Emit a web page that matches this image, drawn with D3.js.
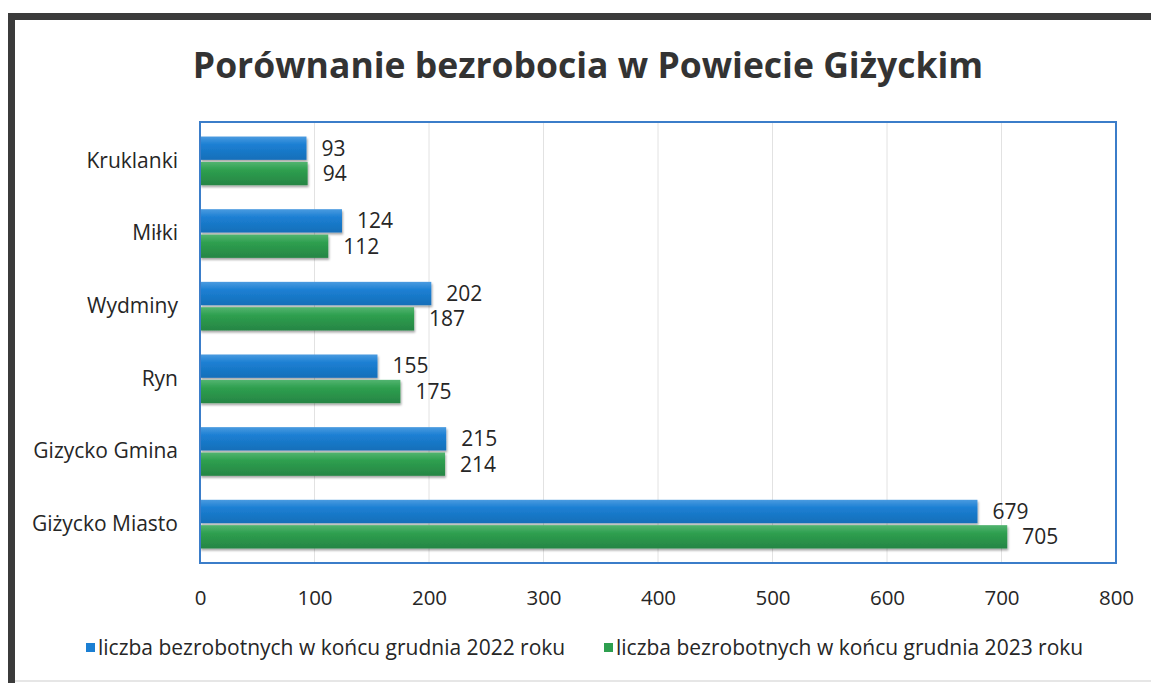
<!DOCTYPE html>
<html>
<head>
<meta charset="utf-8">
<script src="https://cdn.jsdelivr.net/npm/d3@7"></script>
<style>
  body { margin: 0; background: #fff; }
  text { font-family: "Open Sans", sans-serif; fill: #262626; }
</style>
</head>
<body>
<script>
const categories = ['Kruklanki', 'Miłki', 'Wydminy', 'Ryn', 'Gizycko Gmina', 'Giżycko Miasto'];
const values2022 = [93, 124, 202, 155, 215, 679];
const values2023 = [94, 112, 187, 175, 214, 705];
const seriesNames = [
    'liczba bezrobotnych w końcu grudnia 2022 roku',
    'liczba bezrobotnych w końcu grudnia 2023 roku'
];
const xTicks = [0, 100, 200, 300, 400, 500, 600, 700, 800];
const colors = ['#1b7fd3', '#2e9f4f'];

const width = 1151, height = 683;
const plot = {left: 200, right: 1116, top: 122, bottom: 563};

const svg = d3.select("body").append("svg")
    .attr("width", width)
    .attr("height", height);

// gradients for the bars and a small shadow
const defs = svg.append("defs");
const shades = [['#4a9be0', '#1b7fd3', '#166fb9'], ['#52b470', '#2e9f4f', '#268544']];
shades.forEach((s, i) => {
    const g = defs.append("linearGradient")
        .attr("id", "grad" + i)
        .attr("x1", 0).attr("y1", 0).attr("x2", 0).attr("y2", 1);
    g.append("stop").attr("offset", "0%").attr("stop-color", s[0]);
    g.append("stop").attr("offset", "35%").attr("stop-color", s[1]);
    g.append("stop").attr("offset", "100%").attr("stop-color", s[2]);
});
const f = defs.append("filter").attr("id", "shadow")
    .attr("x", "-5%").attr("y", "-20%").attr("width", "115%").attr("height", "160%");
f.append("feDropShadow")
    .attr("dx", 1).attr("dy", 2).attr("stdDeviation", 1.2)
    .attr("flood-color", "#000").attr("flood-opacity", 0.35);

// scanned frame
svg.append("line").attr("x1", 8).attr("y1", 16.5).attr("x2", width).attr("y2", 16.5)
    .attr("stroke", "#3b3b3b").attr("stroke-width", 7);
svg.append("line").attr("x1", 11.5).attr("y1", 13).attr("x2", 11.5).attr("y2", height)
    .attr("stroke", "#3b3b3b").attr("stroke-width", 7);
svg.append("line").attr("x1", 15).attr("y1", 681).attr("x2", width).attr("y2", 681)
    .attr("stroke", "#e6e6e6").attr("stroke-width", 2);

svg.append("text")
    .attr("x", 588)
    .attr("y", 78)
    .attr("text-anchor", "middle")
    .style("font-size", "35.5px")
    .style("font-weight", "bold")
    .style("fill", "#333")
    .text('Porównanie bezrobocia w Powiecie Giżyckim');

const x = d3.scaleLinear()
    .domain([0, 800])
    .range([plot.left, plot.right]);

const y = d3.scaleBand()
    .domain(categories)
    .range([plot.top, plot.bottom])
    .paddingInner(0.33)
    .paddingOuter(0.2);

const ySub = d3.scaleBand()
    .domain([0, 1])
    .range([0, y.bandwidth()])
    .paddingInner(0.08);

// gridlines
svg.append("g")
    .selectAll("line")
    .data(xTicks.slice(1))
    .enter().append("line")
    .attr("x1", d => x(d)).attr("x2", d => x(d))
    .attr("y1", plot.top).attr("y2", plot.bottom)
    .attr("stroke", "#e2e2e2")
    .attr("stroke-width", 1);

// x axis labels
const xAxis = svg.append("g")
    .attr("transform", `translate(0,${plot.bottom})`)
    .call(d3.axisBottom(x).tickValues(xTicks).tickSize(0).tickPadding(27));
xAxis.select(".domain").remove();
xAxis.selectAll("text")
    .style("font-size", "20.5px")
    .style("font-family", "'Open Sans', sans-serif")
    .attr("fill", "#333");

// category labels
const yAxis = svg.append("g")
    .attr("transform", `translate(${plot.left},0)`)
    .call(d3.axisLeft(y).tickSize(0).tickPadding(22));
yAxis.select(".domain").remove();
yAxis.selectAll("text")
    .style("font-size", "21px")
    .style("font-family", "'Open Sans', sans-serif")
    .attr("fill", "#333");

const series = [values2022, values2023];
series.forEach((vals, si) => {
    const g = svg.append("g");
    g.selectAll("rect")
        .data(vals)
        .enter().append("rect")
        .attr("x", x(0))
        .attr("y", (d, i) => y(categories[i]) + ySub(si))
        .attr("width", d => x(d) - x(0))
        .attr("height", ySub.bandwidth())
        .attr("fill", `url(#grad${si})`)
        .attr("filter", "url(#shadow)");
    g.selectAll("text")
        .data(vals)
        .enter().append("text")
        .attr("x", d => x(d) + 15)
        .attr("y", (d, i) => y(categories[i]) + ySub(si) + ySub.bandwidth() / 2)
        .attr("dy", "0.35em")
        .style("font-size", "21px")
        .text(d => d);
});

// plot border
svg.append("rect")
    .attr("x", plot.left)
    .attr("y", plot.top)
    .attr("width", plot.right - plot.left)
    .attr("height", plot.bottom - plot.top)
    .attr("fill", "none")
    .attr("stroke", "#3b7dc9")
    .attr("stroke-width", 2);

// legend
const legendX = [86, 604];
seriesNames.forEach((name, i) => {
    const lg = svg.append("g").attr("transform", `translate(${legendX[i]},648)`);
    lg.append("rect")
        .attr("x", 0).attr("y", -5)
        .attr("width", 9).attr("height", 9)
        .attr("fill", colors[i]);
    lg.append("text")
        .attr("x", 12)
        .attr("y", 0)
        .attr("dy", "0.35em")
        .style("font-size", "21px")
        .text(name);
});
</script>
</body>
</html>
